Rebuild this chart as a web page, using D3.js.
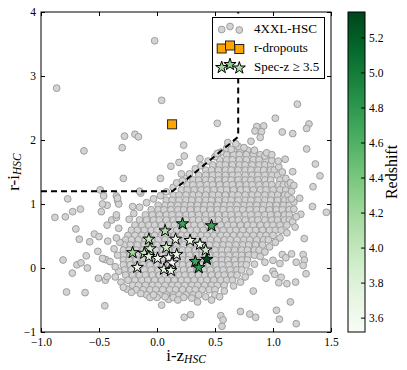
<!DOCTYPE html>
<html lang="en">
<head>
<meta charset="UTF-8">
<title>r-dropouts</title>
<script src="https://cdn.jsdelivr.net/npm/d3@7"></script>
<style>
  body { margin: 0; background: #fff; }
  svg { font-family: "Liberation Serif", "DejaVu Serif", serif; }
  .tick text { font-size: 11.5px; fill: #000; font-family: "Liberation Serif", "DejaVu Serif", serif; }
  .tick line { stroke: #000; }
</style>
</head>
<body>
<div id="chart"></div>
<script>
// axis ticks
const xTicks = [-1.0, -0.5, 0.0, 0.5, 1.0, 1.5];
const yTicks = [-1, 0, 1, 2, 3, 4];
const zTicks = [3.6, 3.8, 4.0, 4.2, 4.4, 4.6, 4.8, 5.0, 5.2];

// 4XXL-HSC sources, sparse ones read one by one [i-z, r-i]
const sparse = [
  [-0.02,3.55],[-0.865,2.81],[0.04,2.62],[-0.63,1.83],[-0.30,1.88],[-0.28,2.06],[-0.19,2.09],[-0.16,2.05],
  [0.23,1.92],[0.235,1.75],[0.12,1.59],[0.19,1.65],[0.37,1.71],[-0.29,1.40],[0.03,1.40],[0.21,1.47],[-0.49,1.22],
  [1.21,2.56],[1.02,2.34],[0.52,2.26],[0.86,2.21],[0.92,2.22],[0.845,2.14],[0.90,2.13],[1.08,2.125],[1.17,2.10],
  [1.31,2.25],[1.29,2.18],[0.89,2.04],[0.81,1.98],[1.29,1.86],[1.365,1.625],[1.405,1.44],[0.945,1.80],[0.99,1.77],
  [1.15,1.33],[1.345,1.27],[0.68,1.94],[1.105,1.70],[1.045,1.67],[1.17,1.505],[1.18,1.29],[1.23,1.09],[1.16,1.08],
  [1.34,0.96],[1.46,0.87],[1.24,0.84],[1.20,0.80],[1.27,0.46],[1.19,0.64],[1.26,0.21],[1.27,0.125],[1.26,0.04],
  [1.285,-0.09],[1.20,0.09],[1.16,0.22],[1.08,0.21],[1.11,0.16],[1.06,0.07],[1.0,0.12],[0.93,0.09],[1.0,-0.05],
  [1.015,-0.10],[0.94,-0.16],[1.07,-0.145],[1.05,-0.23],[1.12,-0.245],[1.195,-0.22],[0.83,-0.36],[1.15,-0.53],
  [0.72,-0.68],[0.80,-0.72],[0.85,-0.77],[1.03,-0.66],[1.055,-0.80],[1.20,-0.87],[0.55,-0.745],[0.56,-0.91],
  [0.57,-0.81],[0.29,-0.73],[0.235,-0.77],[0.35,-0.53],[0.04,-0.58],[0.0,-0.46],[0.07,-0.45],[0.14,-0.46],
  [0.18,-0.50],[0.47,-0.5],[0.54,-0.45],[-0.03,-0.42],
  [-0.88,0.79],[-0.79,0.80],[-0.727,0.88],[-0.66,0.92],[-0.77,1.08],[-0.70,0.61],[-0.67,0.45],[-0.58,0.41],
  [-0.54,0.53],[-0.50,0.49],[-0.425,0.42],[-0.51,0.26],[-0.81,0.125],[-0.69,0.05],[-0.655,0.08],[-0.60,0.0],
  [-0.73,-0.08],[-0.465,0.145],[-0.44,0.13],[-0.78,-0.375],[-0.62,-0.385],[-0.505,-0.16],[-0.445,-0.19],
  [-0.43,-0.135],[-0.36,-0.14],[-0.45,-0.59],[-0.29,-0.30],[-0.36,0.02],[-0.405,0.10],[-0.37,0.30],[-0.43,0.67],
  [-0.39,0.75],[-0.35,0.79],[-0.48,0.88],[-0.43,0.98],[-0.34,1.05],[-0.33,1.0],[-0.46,1.125],[-0.35,1.125],
  [-0.21,0.96],[-0.14,1.17],[-0.34,1.09],[-0.35,0.83],[-0.61,0.19],[-0.47,0.15],[-0.35,0.47],[-0.47,1.0],
  [0.22,1.36],[0.52,1.79],[0.61,1.96],[0.64,1.855],[-0.15,1.2]
];

// edge of the dense cloud
const fringe = [
  [-0.33,0.62],[-0.32,0.40],[-0.34,0.20],[-0.33,-0.05],[-0.31,-0.22],[-0.26,-0.33],[-0.24,0.76],[-0.20,0.85],
  [-0.15,0.95],[-0.09,1.02],[-0.03,1.08],[0.03,1.13],[0.08,1.19],[0.14,1.26],[0.17,1.33],[0.24,1.40],[0.28,1.47],
  [0.33,1.55],[0.38,1.60],[0.44,1.67],[0.50,1.74],[0.55,1.81],[0.60,1.87],[0.70,1.90],[0.75,1.88],[0.84,1.84],
  [0.93,1.75],[0.99,1.68],[1.05,1.58],[1.08,1.50],[1.11,1.40],[1.13,1.31],[1.16,1.20],[1.18,1.03],[1.18,0.92],
  [1.17,0.72],[1.12,0.55],[1.06,0.47],[1.02,0.40],[0.97,0.33],[0.93,0.25],[0.89,0.18],[0.84,0.06],[0.80,-0.06],
  [0.76,-0.14],[0.72,-0.22],[0.66,-0.28],[0.58,-0.36],[0.50,-0.42],[0.42,-0.45],[0.30,-0.47],[0.23,-0.46],
  [0.10,-0.49],[-0.06,-0.46],[-0.14,-0.40],[-0.22,-0.38]
];

// dense cloud, one row per r-i level: [r-i, [i-z ...]]
const coreRows = [
  [1.84, [0.66,0.72,0.78]],
  [1.77, [0.60,0.66,0.71,0.77,0.83,0.89]],
  [1.69, [0.54,0.60,0.65,0.71,0.77,0.83,0.88,0.94]],
  [1.61, [0.48,0.54,0.59,0.65,0.71,0.76,0.82,0.88,0.93,0.98]],
  [1.53, [0.42,0.47,0.53,0.59,0.64,0.70,0.76,0.81,0.87,0.92,0.98,1.01]],
  [1.45, [0.36,0.42,0.48,0.53,0.59,0.65,0.70,0.76,0.82,0.87,0.93,0.99,1.04]],
  [1.375,[0.31,0.36,0.42,0.47,0.53,0.59,0.64,0.70,0.76,0.81,0.87,0.93,0.98,1.06]],
  [1.30, [0.26,0.31,0.37,0.43,0.48,0.54,0.60,0.65,0.71,0.77,0.82,0.88,0.94,0.99,1.05,1.09]],
  [1.22, [0.21,0.26,0.32,0.38,0.43,0.49,0.55,0.60,0.66,0.72,0.77,0.83,0.89,0.94,1.00,1.06,1.11]],
  [1.14, [0.14,0.19,0.25,0.31,0.36,0.42,0.48,0.53,0.59,0.65,0.70,0.76,0.82,0.87,0.93,0.99,1.04,1.10,1.13]],
  [1.06, [0.08,0.13,0.19,0.25,0.30,0.36,0.42,0.47,0.53,0.59,0.64,0.70,0.76,0.81,0.87,0.93,0.98,1.04,1.10,1.14]],
  [0.98, [0.01,0.07,0.12,0.18,0.24,0.29,0.35,0.41,0.46,0.52,0.58,0.63,0.69,0.75,0.80,0.86,0.92,0.97,1.03,1.09,1.14]],
  [0.91, [-0.05,0.01,0.06,0.12,0.18,0.23,0.29,0.35,0.40,0.46,0.52,0.57,0.63,0.69,0.74,0.80,0.86,0.91,0.97,1.03,1.08,1.14]],
  [0.83, [-0.10,-0.04,0.02,0.08,0.13,0.19,0.25,0.30,0.36,0.42,0.47,0.53,0.59,0.64,0.70,0.76,0.81,0.87,0.93,0.98,1.04,1.10,1.14]],
  [0.75, [-0.15,-0.09,-0.03,0.02,0.08,0.14,0.19,0.25,0.31,0.36,0.42,0.48,0.53,0.59,0.65,0.70,0.76,0.82,0.87,0.93,0.99,1.04,1.10,1.14]],
  [0.67, [-0.19,-0.13,-0.07,-0.02,0.04,0.10,0.15,0.21,0.27,0.32,0.38,0.44,0.49,0.55,0.61,0.66,0.72,0.78,0.83,0.89,0.95,1.00,1.06,1.12]],
  [0.59, [-0.22,-0.17,-0.11,-0.05,0.00,0.06,0.12,0.17,0.23,0.29,0.34,0.40,0.46,0.51,0.57,0.63,0.68,0.74,0.80,0.85,0.91,0.97,1.02,1.07]],
  [0.51, [-0.25,-0.19,-0.13,-0.08,-0.02,0.04,0.09,0.15,0.21,0.26,0.32,0.38,0.43,0.49,0.55,0.60,0.66,0.72,0.77,0.83,0.89,0.94,1.00]],
  [0.44, [-0.27,-0.22,-0.16,-0.10,-0.05,0.01,0.07,0.12,0.18,0.24,0.29,0.35,0.41,0.46,0.52,0.58,0.63,0.69,0.75,0.80,0.86,0.92,0.96]],
  [0.36, [-0.28,-0.23,-0.17,-0.11,-0.06,0.00,0.06,0.11,0.17,0.23,0.28,0.34,0.40,0.45,0.51,0.57,0.62,0.68,0.74,0.79,0.85,0.91]],
  [0.28, [-0.29,-0.24,-0.18,-0.12,-0.07,-0.01,0.05,0.10,0.16,0.22,0.27,0.33,0.39,0.44,0.50,0.56,0.61,0.67,0.73,0.78,0.84,0.88]],
  [0.20, [-0.29,-0.23,-0.17,-0.12,-0.06,0.00,0.05,0.11,0.17,0.22,0.28,0.34,0.39,0.45,0.51,0.56,0.62,0.68,0.73,0.79,0.84]],
  [0.125,[-0.29,-0.24,-0.18,-0.12,-0.07,-0.01,0.05,0.10,0.16,0.22,0.27,0.33,0.39,0.44,0.50,0.56,0.61,0.67,0.73,0.78]],
  [0.05, [-0.29,-0.23,-0.17,-0.12,-0.06,0.00,0.05,0.11,0.17,0.22,0.28,0.34,0.39,0.45,0.51,0.56,0.62,0.68,0.73,0.77]],
  [-0.03,[-0.28,-0.22,-0.16,-0.11,-0.05,0.01,0.06,0.12,0.18,0.23,0.29,0.35,0.40,0.46,0.52,0.57,0.63,0.69,0.73]],
  [-0.11,[-0.27,-0.21,-0.15,-0.10,-0.04,0.02,0.07,0.13,0.19,0.24,0.30,0.36,0.41,0.47,0.53,0.58,0.64,0.69]],
  [-0.19,[-0.25,-0.19,-0.13,-0.08,-0.02,0.04,0.09,0.15,0.21,0.26,0.32,0.38,0.43,0.49,0.55,0.60,0.65]],
  [-0.27,[-0.21,-0.16,-0.10,-0.04,0.01,0.07,0.13,0.18,0.24,0.30,0.35,0.41,0.47,0.52,0.58]],
  [-0.34,[-0.18,-0.12,-0.06,-0.01,0.05,0.11,0.16,0.22,0.28,0.33,0.39,0.45,0.50]],
  [-0.42,[-0.09,-0.03,0.02,0.08,0.14,0.19,0.25,0.31,0.36]]
];

// r-dropout candidate
const dropouts = [[0.13, 2.245]];

// spectroscopic sources: i-z, r-i, redshift
const specX = [0.22,0.47,0.07,-0.07,0.16,0.285,0.37,0.42,-0.21,-0.11,-0.06,-0.07,0.08,0.005,0.10,0.17,0.13,0.06,0.12,-0.17,0.33,0.43,0.36];
const specY = [0.69,0.66,0.58,0.45,0.45,0.43,0.37,0.28,0.24,0.23,0.30,0.18,0.32,0.15,0.16,0.21,0.08,-0.02,-0.04,0.01,0.10,0.135,0.005];
const specZ = [4.7,4.7,4.1,4.0,3.7,3.65,3.6,3.9,4.2,4.0,3.9,3.8,3.9,3.55,3.55,3.7,3.55,3.75,3.7,3.7,4.7,5.3,4.8];

// colour cut: r-i > 1.2, r-i > 1.5(i-z)+1.0, i-z < 0.7
const cutX = [-1.0, 0.1333, 0.7, 0.7];
const cutY = [1.2, 1.2, 2.05, 4.0];

const W = 407, H = 370;
const plot = {left: 41, right: 331, top: 12, bottom: 332};
const cbar = {left: 348, right: 365};
const serif = '"Liberation Serif", "DejaVu Serif", serif';

const svg = d3.select("#chart").append("svg").attr("width", W).attr("height", H);

const x = d3.scaleLinear().domain([-1.0, 1.5]).range([plot.left, plot.right]);
const y = d3.scaleLinear().domain([-1, 4]).range([plot.bottom, plot.top]);
const zMin = 3.518, zMax = 5.345;
const color = d3.scaleSequential(d3.interpolateGreens).domain([zMin, zMax]);
const zScale = d3.scaleLinear().domain([zMin, zMax]).range([plot.bottom, plot.top]);

svg.append("clipPath").attr("id", "plotclip").append("rect")
  .attr("x", plot.left).attr("y", plot.top)
  .attr("width", plot.right - plot.left).attr("height", plot.bottom - plot.top);

const g = svg.append("g").attr("clip-path", "url(#plotclip)");

// gray points
const core = [];
coreRows.forEach(([ry, xs]) => xs.forEach(v => core.push([v, ry])));
const allGray = core.concat(fringe, sparse);

g.selectAll("circle.src").data(allGray).enter().append("circle")
  .attr("class", "src")
  .attr("cx", d => x(d[0])).attr("cy", d => y(d[1])).attr("r", 3.4)
  .attr("fill", "#d3d3d3").attr("stroke", "#9e9e9e").attr("stroke-width", 1);

// selection lines
const line = d3.line().x(d => x(d[0])).y(d => y(d[1]));
g.append("path").datum(cutX.map((v, i) => [v, cutY[i]]))
  .attr("d", line).attr("fill", "none").attr("stroke", "#000")
  .attr("stroke-width", 2).attr("stroke-dasharray", "6,4");

// dropout
g.selectAll("rect.drop").data(dropouts).enter().append("rect")
  .attr("x", d => x(d[0]) - 4.5).attr("y", d => y(d[1]) - 4.5)
  .attr("width", 9).attr("height", 9)
  .attr("fill", "#ffa500").attr("stroke", "#222").attr("stroke-width", 1);

// spec-z stars
const star = d3.symbol().type(d3.symbolStar).size(46);
const spec = specX.map((v, i) => ({x: v, y: specY[i], z: specZ[i]}));
g.selectAll("path.spec").data(spec).enter().append("path")
  .attr("d", star)
  .attr("transform", d => `translate(${x(d.x)},${y(d.y)})`)
  .attr("fill", d => color(d.z)).attr("stroke", "#000").attr("stroke-width", 1);

// axes, ticks pointing inward
const fmtX = d => d3.format(".1f")(d).replace("-", "\u2212");
const fmtY = d => d3.format("d")(d).replace("-", "\u2212");
const noFont = a => a.attr("font-family", serif).attr("font-size", 11.5);

svg.append("g").attr("transform", `translate(0,${plot.bottom})`)
  .call(d3.axisBottom(x).tickValues(xTicks).tickSize(-4).tickPadding(6).tickFormat(fmtX))
  .call(noFont).call(a => a.select(".domain").remove());
svg.append("g").attr("transform", `translate(0,${plot.top})`)
  .call(d3.axisTop(x).tickValues(xTicks).tickSize(-4).tickFormat(""))
  .call(a => a.select(".domain").remove());
svg.append("g").attr("transform", `translate(${plot.left},0)`)
  .call(d3.axisLeft(y).tickValues(yTicks).tickSize(-4).tickPadding(5).tickFormat(fmtY))
  .call(noFont).call(a => a.select(".domain").remove());
svg.append("g").attr("transform", `translate(${plot.right},0)`)
  .call(d3.axisRight(y).tickValues(yTicks).tickSize(-4).tickFormat(""))
  .call(a => a.select(".domain").remove());

svg.append("rect")
  .attr("x", plot.left).attr("y", plot.top)
  .attr("width", plot.right - plot.left).attr("height", plot.bottom - plot.top)
  .attr("fill", "none").attr("stroke", "#000").attr("stroke-width", 1);

// axis labels
const xl = svg.append("text").attr("x", (plot.left + plot.right) / 2).attr("y", 361)
  .attr("text-anchor", "middle").attr("font-size", 17);
xl.append("tspan").text("i-z");
xl.append("tspan").attr("font-size", 11.5).attr("font-style", "italic").attr("dy", 2).text("HSC");

const yl = svg.append("text").attr("transform", `translate(19,${(plot.top + plot.bottom) / 2}) rotate(-90)`)
  .attr("text-anchor", "middle").attr("font-size", 17);
yl.append("tspan").text("r-i");
yl.append("tspan").attr("font-size", 11.5).attr("font-style", "italic").attr("dy", 2).text("HSC");

// legend
const lg = svg.append("g");
lg.append("rect").attr("x", 212.5).attr("y", 17.5).attr("width", 112).attr("height", 61)
  .attr("fill", "#fff").attr("stroke", "#000").attr("stroke-width", 1);
const mx = [221.7, 230, 239.3];
const yoff = [1.5, -1.5, 2];
const rows = [28, 47, 66];
lg.selectAll("circle").data(mx).enter().append("circle")
  .attr("cx", d => d).attr("cy", (d, i) => rows[0] + yoff[i]).attr("r", 3.4)
  .attr("fill", "#d3d3d3").attr("stroke", "#9e9e9e");
lg.selectAll("rect.m").data(mx).enter().append("rect").attr("class", "m")
  .attr("x", d => d - 4.5).attr("y", (d, i) => rows[1] + yoff[i] - 4.5)
  .attr("width", 9).attr("height", 9)
  .attr("fill", "#ffa500").attr("stroke", "#222");
lg.selectAll("path").data(mx).enter().append("path")
  .attr("d", star)
  .attr("transform", (d, i) => `translate(${d},${rows[2] + yoff[i]})`)
  .attr("fill", (d, i) => color([4.2, 4.3, 4.1][i])).attr("stroke", "#000");
const labels = ["4XXL-HSC", "r-dropouts", "Spec-z \u2265 3.5"];
lg.selectAll("text").data(labels).enter().append("text")
  .attr("x", 254).attr("y", (d, i) => rows[i] + 4.5)
  .attr("font-size", 13).text(d => d);

// colorbar
const defs = svg.append("defs");
const grad = defs.append("linearGradient").attr("id", "cbgrad")
  .attr("x1", 0).attr("y1", 1).attr("x2", 0).attr("y2", 0);
d3.range(0, 1.0001, 0.1).forEach(t => {
  grad.append("stop").attr("offset", t).attr("stop-color", d3.interpolateGreens(t));
});
svg.append("rect").attr("x", cbar.left).attr("y", plot.top)
  .attr("width", cbar.right - cbar.left).attr("height", plot.bottom - plot.top)
  .attr("fill", "url(#cbgrad)");
svg.append("g").attr("transform", `translate(${cbar.right},0)`)
  .call(d3.axisRight(zScale).tickValues(zTicks).tickSize(-4).tickPadding(4).tickFormat(d3.format(".1f")))
  .call(noFont).call(a => a.select(".domain").remove());
svg.append("rect").attr("x", cbar.left).attr("y", plot.top)
  .attr("width", cbar.right - cbar.left).attr("height", plot.bottom - plot.top)
  .attr("fill", "none").attr("stroke", "#000").attr("stroke-width", 1);
svg.append("text")
  .attr("transform", `translate(397,${(plot.top + plot.bottom) / 2}) rotate(-90)`)
  .attr("text-anchor", "middle").attr("font-size", 16).text("Redshift");
</script>
</body>
</html>
